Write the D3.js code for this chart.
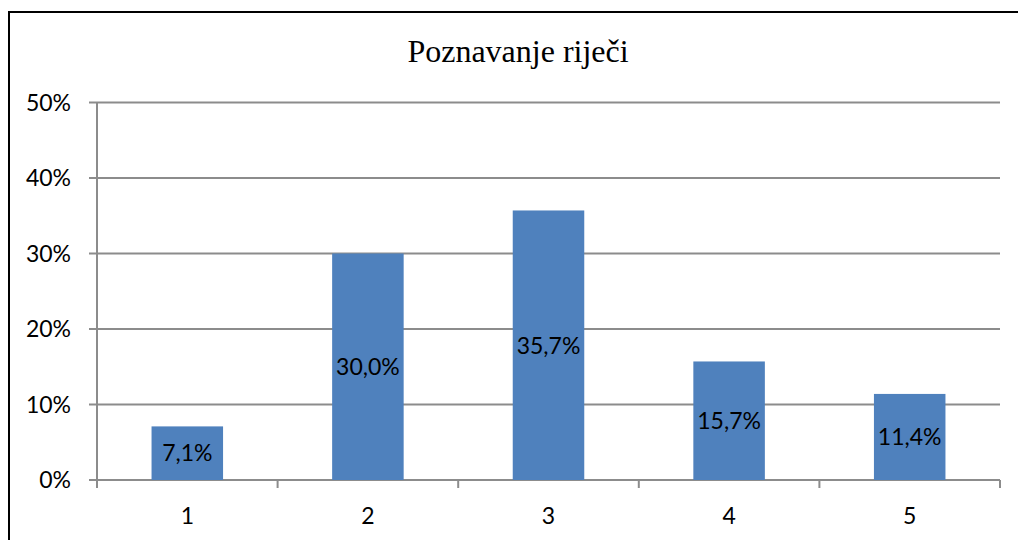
<!DOCTYPE html>
<html>
<head>
<meta charset="utf-8">
<script src="https://cdn.jsdelivr.net/npm/d3@7"></script>
<style>
  body { margin: 0; background: #fff; }
  svg { display: block; }
</style>
</head>
<body>
<svg id="chart" width="1018" height="540"></svg>
<script>
const categories = ['1', '2', '3', '4', '5'];
const values = [7.1, 30.0, 35.7, 15.7, 11.4];
const yTicks = [0, 10, 20, 30, 40, 50];
const title = 'Poznavanje riječi';

const width = 1018;
const height = 540;
const margin = { top: 102.5, right: 18, bottom: 60, left: 97 };
const labelFont = 'Lato, "Open Sans", sans-serif';
const labelSize = 23;

const svg = d3.select('#chart');

// outer frame (runs off the right and bottom edges like the picture)
svg.append('rect')
  .attr('x', 9).attr('y', 12)
  .attr('width', width + 10).attr('height', height + 10)
  .attr('fill', 'none')
  .attr('stroke', '#000')
  .attr('stroke-width', 2);

const x = d3.scaleBand()
  .domain(categories)
  .range([margin.left, width - margin.right])
  .paddingInner(0.604)
  .paddingOuter(0.302);

const xTickScale = d3.scaleBand()
  .domain(categories)
  .range([margin.left, width - margin.right]);

const y = d3.scaleLinear()
  .domain([0, 50])
  .range([height - margin.bottom, margin.top]);

svg.append('text')
  .attr('x', 518)
  .attr('y', 62)
  .attr('text-anchor', 'middle')
  .attr('font-family', '"Liberation Serif", "Times New Roman", serif')
  .attr('font-size', 32)
  .attr('fill', '#000')
  .text(title);

// gridlines
svg.append('g')
  .selectAll('line')
  .data(yTicks)
  .join('line')
  .attr('x1', margin.left - 8)
  .attr('x2', width - margin.right)
  .attr('y1', d => y(d))
  .attr('y2', d => y(d))
  .attr('stroke', '#8c8c8c')
  .attr('stroke-width', 2);

// y axis line
svg.append('line')
  .attr('x1', margin.left).attr('x2', margin.left)
  .attr('y1', y(50)).attr('y2', y(0) + 8)
  .attr('stroke', '#8c8c8c')
  .attr('stroke-width', 2);

// x ticks between categories
const xBounds = categories.map(c => xTickScale(c)).concat([width - margin.right]);
svg.append('g')
  .selectAll('line')
  .data(xBounds)
  .join('line')
  .attr('x1', d => d).attr('x2', d => d)
  .attr('y1', y(0)).attr('y2', y(0) + 8)
  .attr('stroke', '#8c8c8c')
  .attr('stroke-width', 2);

svg.append('g')
  .selectAll('text')
  .data(yTicks)
  .join('text')
  .attr('x', 71)
  .attr('y', d => y(d))
  .attr('dy', '0.36em')
  .attr('text-anchor', 'end')
  .attr('font-family', labelFont)
  .attr('font-size', labelSize)
  .attr('fill', '#000')
  .text(d => d + '%');

svg.append('g')
  .selectAll('text')
  .data(categories)
  .join('text')
  .attr('x', d => xTickScale(d) + xTickScale.bandwidth() / 2)
  .attr('y', 524)
  .attr('text-anchor', 'middle')
  .attr('font-family', labelFont)
  .attr('font-size', labelSize)
  .attr('fill', '#000')
  .text(d => d);

const bars = categories.map((c, i) => ({ c, v: values[i] }));

svg.append('g')
  .selectAll('rect')
  .data(bars)
  .join('rect')
  .attr('x', d => x(d.c))
  .attr('width', x.bandwidth())
  .attr('y', d => y(d.v))
  .attr('height', d => y(0) - y(d.v))
  .attr('fill', '#4f81bd');

svg.append('g')
  .selectAll('text')
  .data(bars)
  .join('text')
  .attr('x', d => x(d.c) + x.bandwidth() / 2)
  .attr('y', d => (y(d.v) + y(0)) / 2)
  .attr('dy', '0.36em')
  .attr('text-anchor', 'middle')
  .attr('font-family', labelFont)
  .attr('font-size', labelSize)
  .attr('fill', '#000')
  .text(d => d.v.toFixed(1).replace('.', ',') + '%');
</script>
</body>
</html>
